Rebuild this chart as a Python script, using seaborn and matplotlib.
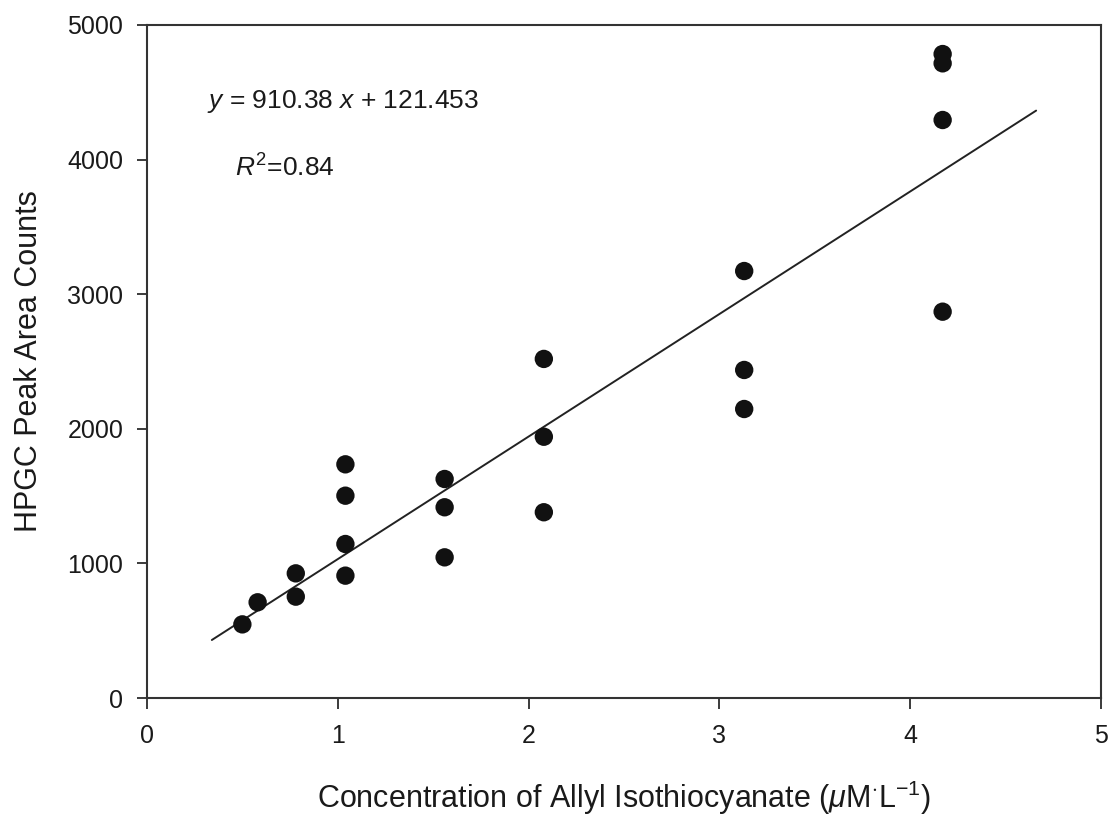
import matplotlib
matplotlib.use("Agg")
import matplotlib.pyplot as plt
import seaborn as sns
import numpy as np
import pandas as pd

# Data
conc = [0.50, 0.58, 0.78, 0.78, 1.04, 1.04, 1.04, 1.04,
        1.56, 1.56, 1.56, 2.08, 2.08, 2.08,
        3.13, 3.13, 3.13, 4.17, 4.17, 4.17, 4.17]
counts = [547, 711, 926, 753, 1736, 1503, 1144, 909,
          1627, 1417, 1045, 2519, 1941, 1380,
          3172, 2437, 2147, 4784, 4715, 4294, 2870]
slope = 910.38
intercept = 121.453
fit_x = [0.34, 4.66]
x_ticks = [0, 1, 2, 3, 4, 5]
y_ticks = [0, 1000, 2000, 3000, 4000, 5000]

sns.set_theme(style="white")
plt.rcParams['font.family'] = ['Liberation Sans', 'DejaVu Sans']
plt.rcParams['mathtext.fontset'] = 'custom'
plt.rcParams['mathtext.rm'] = 'Liberation Sans'
plt.rcParams['mathtext.it'] = 'Liberation Sans:italic'

df = pd.DataFrame({"x": conc, "y": counts})
fit = pd.DataFrame({"x": fit_x, "y": [slope * v + intercept for v in fit_x]})

fig = plt.figure(figsize=(11.1, 8.16), dpi=100)
ax = fig.add_axes([0.1324, 0.1446, 0.9919 - 0.1324, 0.9694 - 0.1446])

sns.lineplot(data=fit, x="x", y="y", ax=ax, color="#222222", linewidth=1.4)
sns.scatterplot(data=df, x="x", y="y", ax=ax, color="#111111", s=175,
                edgecolor="none", zorder=3)

ax.set_xlim(0, 5)
ax.set_ylim(0, 5000)
ax.set_xticks(x_ticks)
ax.set_yticks(y_ticks)
ax.tick_params(axis="both", direction="out", width=1.2,
               labelsize=18, colors="#1a1a1a", left=True, bottom=True)
ax.tick_params(axis="x", length=8, pad=11)
ax.tick_params(axis="y", length=7, pad=10)
for s in ax.spines.values():
    s.set_visible(True)
    s.set_color("#333333")
    s.set_linewidth(1.5)

ax.set_xlabel(r"Concentration of Allyl Isothiocyanate ($\mu$M$^{\cdot}$L$^{-1}$)",
              fontsize=22, color="#1a1a1a", labelpad=22)
ax.set_ylabel("HPGC Peak Area Counts", fontsize=22, color="#1a1a1a", labelpad=17)

ax.text(0.314, 4428, r"$y$ = 910.38 $x$ + 121.453", fontsize=19,
        color="#1a1a1a", va="center")
ax.text(0.46, 3940, r"$R^2$=0.84", fontsize=19, color="#1a1a1a", va="center")

fig.savefig("out.png", dpi=100)
